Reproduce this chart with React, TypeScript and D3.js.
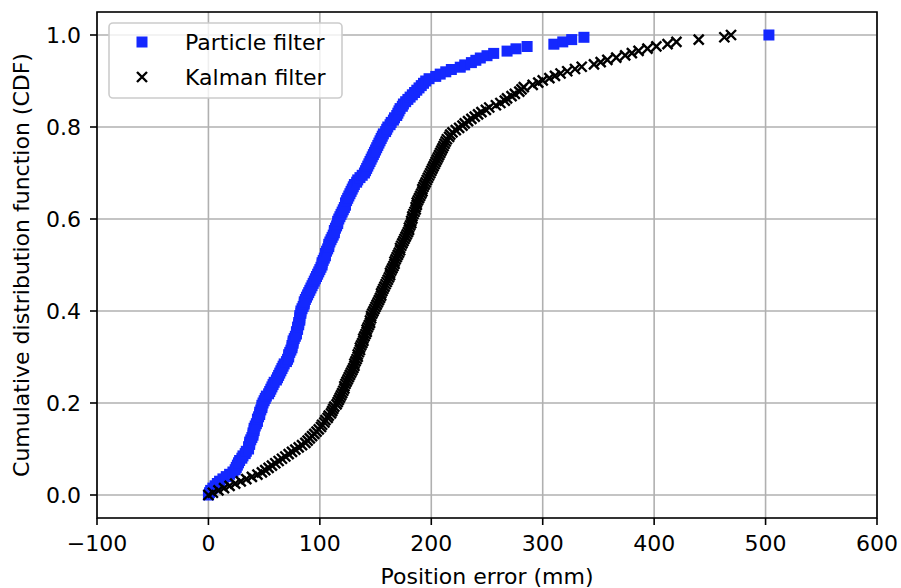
import React from 'react';
import * as d3 from 'd3';

// sorted position errors (mm), one per step
const particleErrors = [
  0, 1, 2, 4, 6, 8, 10, 13, 16, 19,
  22, 24, 25, 26, 27, 28, 30, 31, 33, 34,
  36, 36, 37, 37, 38, 39, 40, 40, 41, 41,
  42, 43, 44, 44, 45, 46, 46, 47, 48, 48,
  49, 50, 51, 52, 54, 55, 56, 57, 58, 59,
  61, 62, 63, 64, 65, 66, 67, 68, 70, 71,
  72, 72, 73, 74, 75, 75, 76, 76, 77, 78,
  79, 79, 80, 80, 81, 81, 82, 82, 82, 83,
  83, 84, 85, 86, 86, 87, 88, 89, 90, 91,
  92, 93, 94, 95, 96, 97, 98, 99, 100, 101,
  102, 102, 103, 104, 105, 105, 106, 107, 108, 108,
  109, 110, 111, 112, 113, 113, 114, 115, 116, 116,
  117, 118, 119, 120, 121, 122, 123, 123, 124, 125,
  126, 127, 128, 129, 130, 131, 133, 134, 136, 138,
  140, 141, 142, 143, 144, 145, 146, 147, 148, 149,
  150, 151, 152, 153, 154, 155, 156, 157, 159, 160,
  161, 163, 164, 166, 167, 169, 170, 171, 172, 174,
  175, 177, 179, 181, 183, 185, 187, 189, 191, 193,
  195, 198, 204, 208, 213, 218, 226, 230, 236, 240,
  244, 250, 256, 268, 276, 286, 310, 318, 326, 337,
  503,
];

const kalmanErrors = [
  0, 4, 9, 14, 19, 24, 29, 34, 39, 44,
  48, 51, 54, 57, 60, 63, 66, 69, 72, 75,
  78, 81, 84, 87, 89, 91, 93, 95, 97, 99,
  101, 102, 104, 105, 107, 108, 110, 111, 112, 113,
  115, 116, 117, 118, 119, 120, 121, 122, 122, 123,
  124, 125, 126, 127, 128, 129, 130, 131, 131, 132,
  133, 134, 134, 135, 136, 136, 137, 138, 139, 139,
  140, 141, 142, 142, 143, 144, 145, 145, 146, 146,
  147, 148, 149, 150, 151, 152, 153, 154, 155, 155,
  156, 157, 158, 159, 160, 161, 162, 163, 163, 164,
  165, 166, 167, 167, 168, 169, 170, 171, 172, 172,
  173, 174, 175, 176, 177, 178, 179, 180, 180, 181,
  182, 182, 183, 183, 184, 185, 186, 186, 187, 187,
  188, 189, 190, 191, 192, 192, 193, 194, 195, 196,
  197, 198, 199, 200, 201, 202, 203, 204, 205, 206,
  207, 208, 209, 210, 211, 212, 213, 214, 216, 217,
  219, 222, 225, 228, 230, 233, 236, 239, 242, 245,
  249, 252, 258, 262, 266, 268, 272, 275, 279, 281,
  283, 291, 296, 300, 306, 311, 316, 322, 329, 335,
  346, 352, 358, 366, 374, 380, 386, 394, 402, 412,
  420, 440, 463, 469,
];

const xTicks = [-100, 0, 100, 200, 300, 400, 500, 600];
const yTicks = [0, 0.2, 0.4, 0.6, 0.8, 1.0];

const W = 901;
const H = 588;
const left = 97, right = 877, top = 12, bottom = 518;
const font = '"DejaVu Sans", sans-serif';
const blue = '#1428ff';

const toCdf = (vals: number[]) => vals.map((v, i) => ({ x: v, y: i / (vals.length - 1) }));

export default function App() {
  const x = d3.scaleLinear().domain([-100, 600]).range([left, right]);
  const y = d3.scaleLinear().domain([-0.05, 1.05]).range([bottom, top]);
  const pf = toCdf(particleErrors);
  const kf = toCdf(kalmanErrors);
  const fmtX = (d: number) => (d < 0 ? '\u2212' + Math.abs(d) : String(d));
  const cross = 'M-5,-5L5,5M-5,5L5,-5';

  return (
    <svg width={W} height={H} style={{ position: 'absolute', left: 0, top: 0, background: '#fff' }}>
      {/* grid */}
      {xTicks.map(t => (
        <line key={'gx' + t} x1={x(t)} x2={x(t)} y1={top} y2={bottom} stroke="#b0b0b0" strokeWidth={1.6} />
      ))}
      {yTicks.map(t => (
        <line key={'gy' + t} x1={left} x2={right} y1={y(t)} y2={y(t)} stroke="#b0b0b0" strokeWidth={1.6} />
      ))}

      {/* data */}
      {pf.map((d, i) => (
        <rect key={'p' + i} x={x(d.x) - 5.5} y={y(d.y) - 5.5} width={11} height={11} fill={blue} />
      ))}
      {kf.map((d, i) => (
        <path key={'k' + i} d={cross} transform={`translate(${x(d.x)},${y(d.y)})`} stroke="#000" strokeWidth={2.4} fill="none" />
      ))}

      {/* frame */}
      <rect x={left} y={top} width={right - left} height={bottom - top} fill="none" stroke="#000" strokeWidth={1.6} />

      {/* x axis */}
      {xTicks.map(t => (
        <g key={'tx' + t} transform={`translate(${x(t)},${bottom})`}>
          <line y2={7} stroke="#000" strokeWidth={1.6} />
          <text y={33} textAnchor="middle" fontFamily={font} fontSize={22} fill="#000">{fmtX(t)}</text>
        </g>
      ))}
      <text x={(left + right) / 2} y={584} textAnchor="middle" fontFamily={font} fontSize={22} fill="#000">
        Position error (mm)
      </text>

      {/* y axis */}
      {yTicks.map(t => (
        <g key={'ty' + t} transform={`translate(${left},${y(t)})`}>
          <line x2={-7} stroke="#000" strokeWidth={1.6} />
          <text x={-16} dy="0.36em" textAnchor="end" fontFamily={font} fontSize={22} fill="#000">{t.toFixed(1)}</text>
        </g>
      ))}
      <text transform={`translate(29,${(top + bottom) / 2}) rotate(-90)`} textAnchor="middle" fontFamily={font} fontSize={22} fill="#000">
        Cumulative distribution function (CDF)
      </text>

      {/* legend */}
      <rect x={109} y={23} width={233} height={75} rx={4} fill="#fff" fillOpacity={0.8} stroke="#cccccc" strokeWidth={1.6} />
      <rect x={136.5} y={36.5} width={11} height={11} fill={blue} />
      <text x={185} y={50} fontFamily={font} fontSize={22} fill="#000">Particle filter</text>
      <path d={cross} transform="translate(142,77)" stroke="#000" strokeWidth={2.4} fill="none" />
      <text x={185} y={85} fontFamily={font} fontSize={22} fill="#000">Kalman filter</text>
    </svg>
  );
}
